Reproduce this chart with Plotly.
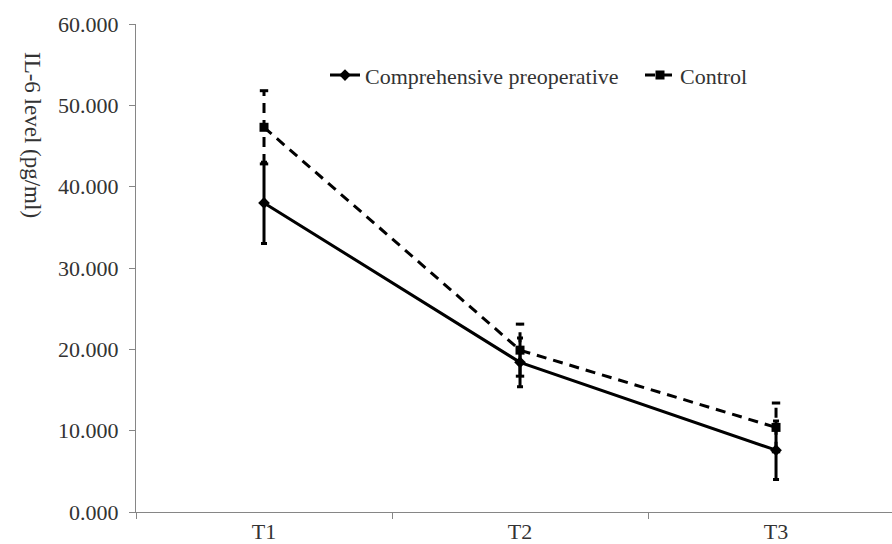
import plotly.graph_objects as go

times = ["T1", "T2", "T3"]
comp_mean = [38.0, 18.4, 7.6]
comp_sd = [5.0, 3.0, 3.6]
ctrl_mean = [47.3, 19.9, 10.4]
ctrl_sd = [4.5, 3.2, 3.0]
y_ticks = [0, 10, 20, 30, 40, 50, 60]
y_tick_text = ["0.000", "10.000", "20.000", "30.000", "40.000", "50.000", "60.000"]

FONT = "Liberation Serif"
TXT = "#333333"
AX = "#868686"

fig = go.Figure()

# control error bars (dashed) built from data
ex, ey = [], []
for t, m, s in zip(times, ctrl_mean, ctrl_sd):
    ex += [t, t, None]
    ey += [m - s, m + s, None]
fig.add_trace(go.Scatter(x=ex, y=ey, mode="lines", showlegend=False, hoverinfo="skip",
                         line=dict(color="black", width=3, dash="10px,7px")))
cx, cy = [], []
for t, m, s in zip(times, ctrl_mean, ctrl_sd):
    cx += [t, t]
    cy += [m - s, m + s]
fig.add_trace(go.Scatter(x=cx, y=cy, mode="markers", showlegend=False, hoverinfo="skip",
                         marker=dict(symbol="line-ew", size=6, line=dict(color="black", width=3))))

fig.add_trace(go.Scatter(
    x=times, y=comp_mean, name="Comprehensive preoperative", mode="lines+markers",
    line=dict(color="black", width=3),
    marker=dict(symbol="diamond", size=9, color="black"),
    error_y=dict(type="data", array=comp_sd, visible=True, color="black", thickness=3, width=3),
    legend="legend",
))
fig.add_trace(go.Scatter(
    x=times, y=ctrl_mean, name="Control", mode="lines+markers",
    line=dict(color="black", width=3, dash="10px,7px"),
    marker=dict(symbol="square", size=9, color="black"),
    legend="legend2",
))

leg_common = dict(orientation="h", xanchor="left", y=0.895, yanchor="middle",
                  bgcolor="rgba(0,0,0,0)", font=dict(family=FONT, size=22, color=TXT))

fig.update_layout(
    width=892, height=544,
    margin=dict(l=136, r=0, t=24, b=32),
    paper_bgcolor="white", plot_bgcolor="white",
    font=dict(family=FONT, size=22, color=TXT),
    showlegend=True,
    legend=dict(x=0.25, **leg_common),
    legend2=dict(x=(640 - 136) / 756, **leg_common),
    xaxis=dict(type="category", range=[-0.5, 2.453], showline=True, linecolor=AX, linewidth=1,
               ticks="outside", tickson="boundaries", ticklen=6, tickcolor=AX, automargin=False,
               showgrid=False, zeroline=False, tickfont=dict(family=FONT, size=22, color=TXT)),
    yaxis=dict(range=[0, 60], tickvals=y_ticks, ticktext=y_tick_text, showline=True,
               linecolor=AX, linewidth=1, ticks="outside", ticklen=6, tickcolor=AX,
               showgrid=False, zeroline=False, ticklabelstandoff=6, automargin=False,
               tickfont=dict(family=FONT, size=22, color=TXT)),
    annotations=[dict(text="IL-6 level (pg/ml)", xref="paper", yref="paper",
                      x=(32 - 136) / 756, y=(512 - 135) / 488, xanchor="center", yanchor="middle",
                      textangle=90, showarrow=False,
                      font=dict(family=FONT, size=23, color=TXT))],
)

fig.write_html("out.html", config={"displayModeBar": False},
               post_script="document.body.style.margin='0';")
